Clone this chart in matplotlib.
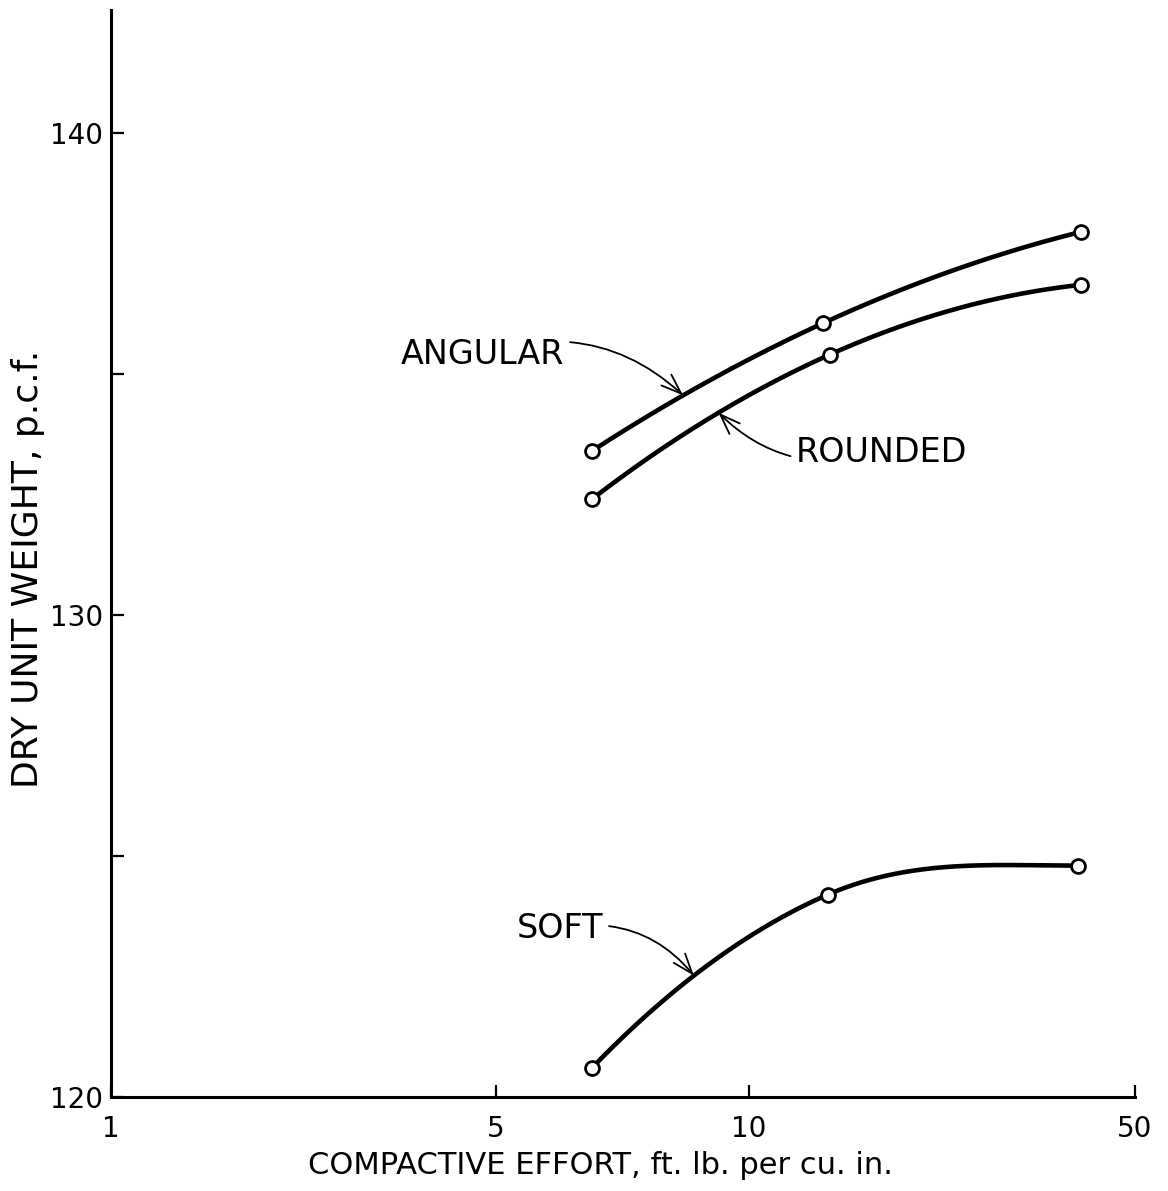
import numpy as np
import matplotlib
matplotlib.use("Agg")
import matplotlib.pyplot as plt

# ---------------- data ----------------
x_ticks = [1, 5, 10, 50]
x_ticklabels = ["1", "5", "10", "50"]
y_major = [120, 130, 140]
y_minor = [125, 135]

effort_angular = [6.5, 13.6, 40.0]
weight_angular = [133.4, 136.05, 137.95]

effort_rounded = [6.5, 14.0, 40.0]
weight_rounded = [132.4, 135.4, 136.85]

effort_soft = [6.5, 13.9, 39.5]
weight_soft = [120.6, 124.2, 124.8]

series_names = ["ANGULAR", "ROUNDED", "SOFT"]

# ------------- axis scale (hand-drawn, piecewise logarithmic) -------------
AL = np.log10(np.array(x_ticks, float))
AF = np.array([0.0, 0.376, 0.623, 1.0])


def fwd(x):
    x = np.asarray(x, float)
    L = np.log10(np.clip(x, 1e-9, None))
    return np.interp(L, AL, AF)


def inv(u):
    u = np.asarray(u, float)
    return 10 ** np.interp(u, AF, AL)


def smooth_curve(u, y, n=200):
    """Cubic Hermite through three points; slopes from the three-point
    parabola, end slopes clamped so the curve does not overshoot."""
    u = np.asarray(u, float)
    y = np.asarray(y, float)
    h = np.diff(u)
    d = np.diff(y) / h
    m1 = (h[1] * d[0] + h[0] * d[1]) / (h[0] + h[1])
    m0 = ((2 * h[0] + h[1]) * d[0] - h[0] * d[1]) / (h[0] + h[1])
    m2 = ((2 * h[1] + h[0]) * d[1] - h[1] * d[0]) / (h[0] + h[1])
    if np.sign(m0) != np.sign(d[0]):
        m0 = 0.0
    if np.sign(m2) != np.sign(d[1]):
        m2 = 0.0
    m = [m0, m1, m2]
    uu, yy = [], []
    for i in range(2):
        t = np.linspace(0, 1, n)
        h00 = 2 * t ** 3 - 3 * t ** 2 + 1
        h10 = t ** 3 - 2 * t ** 2 + t
        h01 = -2 * t ** 3 + 3 * t ** 2
        h11 = t ** 3 - t ** 2
        s = h00 * y[i] + h10 * h[i] * m[i] + h01 * y[i + 1] + h11 * h[i] * m[i + 1]
        uu.append(u[i] + t * h[i])
        yy.append(s)
    return np.concatenate(uu), np.concatenate(yy)


fig = plt.figure(figsize=(11.68, 11.91), dpi=100)
ax = fig.add_axes([0.095, 0.0789, 0.8767, 0.9127])
ax.set_xscale("function", functions=(fwd, inv))
ax.set_xlim(1, 50)
ax.set_ylim(120, 142.55)

curves = {}
for name, xs, ys in [("ANGULAR", effort_angular, weight_angular),
                     ("ROUNDED", effort_rounded, weight_rounded),
                     ("SOFT", effort_soft, weight_soft)]:
    uu, yy = smooth_curve(fwd(xs), ys)
    xx = inv(uu)
    curves[name] = (xx, yy)
    ax.plot(xx, yy, color="black", lw=3.3, solid_capstyle="round", zorder=2)
    ax.plot(xs, ys, linestyle="none", marker="o", ms=10, mfc="white",
            mec="black", mew=2.0, zorder=3)

for s in ["top", "right"]:
    ax.spines[s].set_visible(False)
for s in ["left", "bottom"]:
    ax.spines[s].set_linewidth(2.2)

ax.set_xticks(x_ticks)
ax.set_xticklabels(x_ticklabels)
ax.xaxis.set_minor_locator(matplotlib.ticker.NullLocator())
ax.set_yticks(y_major)
ax.set_yticks(y_minor, minor=True)
ax.tick_params(axis="both", which="both", direction="in", length=9,
               width=1.6, labelsize=20)
ax.tick_params(axis="x", pad=13)
ax.tick_params(axis="y", pad=6)

# ------------- annotations -------------
def ypt(name, x):
    xx, yy = curves[name]
    return np.interp(x, xx, yy)

arrow = dict(arrowstyle="->,head_length=0.6,head_width=0.22", lw=1.3,
             color="black", shrinkA=2, shrinkB=0)

ax.annotate("ANGULAR", xy=(8.35, ypt("ANGULAR", 8.35)), xycoords="data",
            xytext=(0.443, 0.683), textcoords="axes fraction",
            ha="right", va="center", fontsize=24,
            arrowprops=dict(connectionstyle="arc3,rad=-0.3", **arrow))
ax.annotate("ROUNDED", xy=(9.2, ypt("ROUNDED", 9.2)), xycoords="data",
            xytext=(0.669, 0.593), textcoords="axes fraction",
            ha="left", va="center", fontsize=24,
            arrowprops=dict(connectionstyle="arc3,rad=-0.3", **arrow))
ax.annotate("SOFT", xy=(8.6, ypt("SOFT", 8.6)), xycoords="data",
            xytext=(0.481, 0.155), textcoords="axes fraction",
            ha="right", va="center", fontsize=24,
            arrowprops=dict(connectionstyle="arc3,rad=-0.3", **arrow))

fig.text(0.514, 0.021, "COMPACTIVE EFFORT, ft. lb. per cu. in.",
         ha="center", va="center", fontsize=22)
fig.text(0.024, 0.522, "DRY UNIT WEIGHT, p.c.f.", rotation=90,
         ha="center", va="center", fontsize=26)

fig.savefig("out.png", dpi=100)
